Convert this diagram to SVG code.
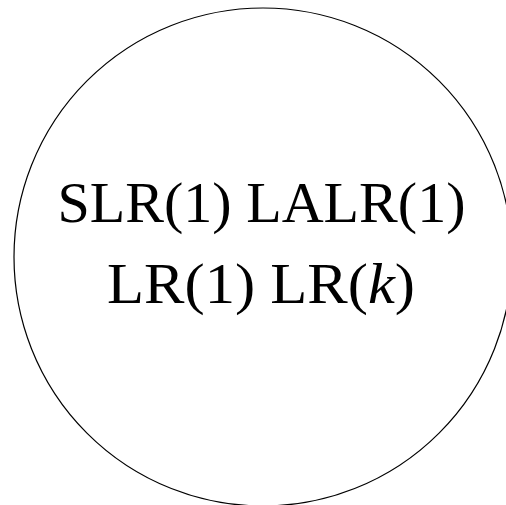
<svg xmlns="http://www.w3.org/2000/svg" width="506" height="505" viewBox="0 0 506 505">
<style>
.lbl{font-family:"Liberation Serif","DejaVu Serif",serif;font-size:57px;fill:#000;text-anchor:middle}
</style>
<rect width="506" height="505" fill="#fff"/>
<g id="circle">
<circle cx="263" cy="257" r="249" fill="none" stroke="#000" stroke-width="1.2"/>
</g>
<g id="labels">
<text class="lbl" x="261.5" y="222" textLength="408" lengthAdjust="spacingAndGlyphs">SLR(1) LALR(1)</text>
<text class="lbl" x="261" y="303" textLength="308" lengthAdjust="spacingAndGlyphs">LR(1) LR(<tspan font-style="italic">k</tspan>)</text>
</g>
</svg>
